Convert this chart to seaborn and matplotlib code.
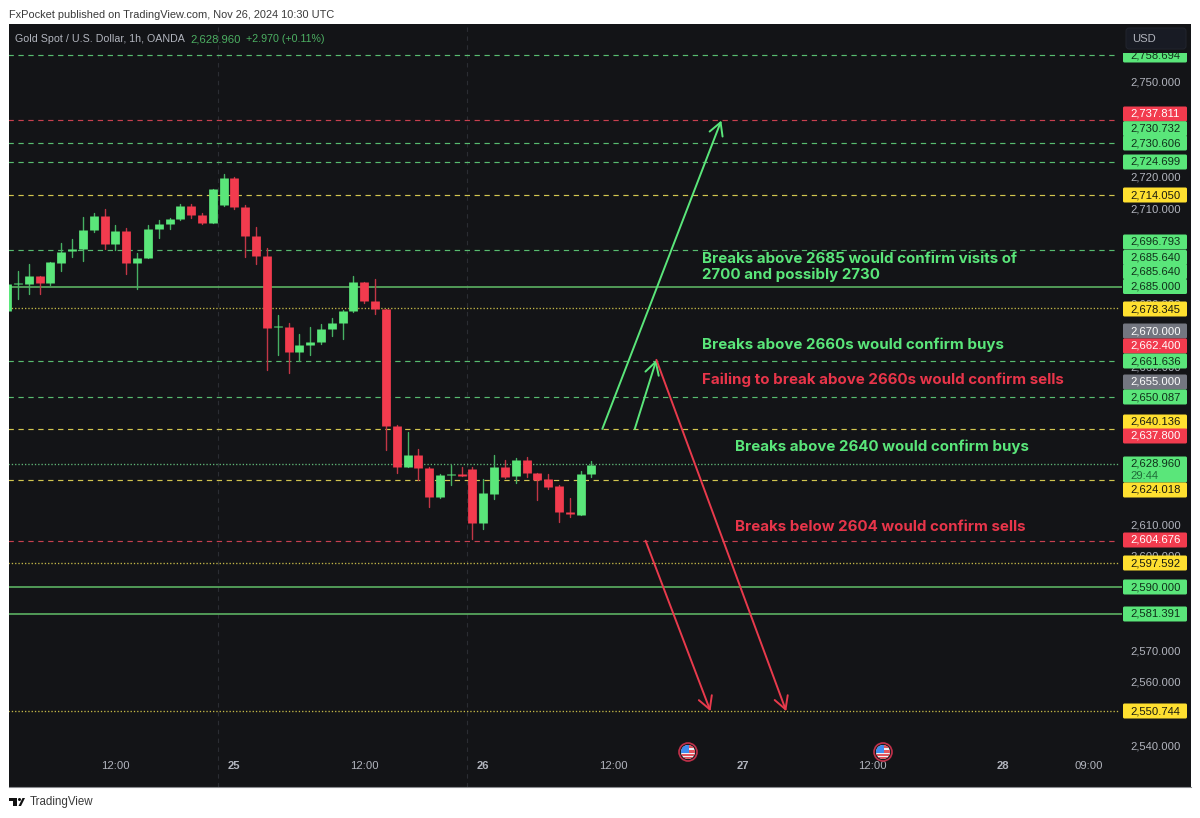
import matplotlib
matplotlib.use("Agg")
import matplotlib.pyplot as plt
from matplotlib.patches import Rectangle, FancyBboxPatch, Circle, Polygon
from matplotlib.transforms import Affine2D
import pandas as pd
import seaborn as sns

# ---------- data ----------
opens = [2677.5,2685.9,2686.0,2688.7,2686.3,2692.7,2696.4,2697.1,2703.0,2707.5,2698.6,2702.8,2692.8,2694.4,2703.5,2705.0,2706.5,2710.7,2707.9,2705.4,2710.9,2719.6,2710.5,2701.1,2695.0,2672.3,2672.3,2664.5,2666.7,2667.7,2671.8,2673.7,2677.5,2686.7,2680.6,2678.1,2641.0,2628.0,2631.7,2627.7,2618.4,2625.5,2625.8,2627.3,2610.3,2619.6,2628.0,2625.1,2630.3,2626.2,2624.1,2621.9,2613.9,2613.0,2625.7]
closes = [2685.9,2686.2,2688.4,2686.3,2692.9,2696.1,2697.1,2703.2,2707.5,2698.6,2702.9,2692.8,2694.4,2703.4,2704.9,2706.6,2710.7,2707.9,2705.4,2716.0,2719.6,2710.4,2701.1,2695.0,2672.1,2672.6,2664.5,2666.7,2667.7,2671.8,2673.7,2677.5,2686.5,2680.7,2678.1,2641.0,2628.1,2631.7,2627.6,2618.6,2625.6,2625.8,2625.2,2610.2,2619.7,2628.0,2625.0,2630.3,2626.1,2623.9,2621.8,2613.8,2613.3,2625.8,2628.7]
highs = [2685.9,2690.2,2692.2,2688.7,2692.9,2698.9,2700.3,2707.3,2708.4,2709.9,2704.8,2703.9,2695.9,2704.8,2706.3,2706.8,2711.2,2711.2,2708.6,2716.0,2721.0,2719.8,2710.9,2704.2,2697.3,2676.2,2673.8,2670.1,2672.3,2673.3,2675.1,2677.8,2688.7,2686.7,2687.7,2678.1,2641.3,2639.2,2633.9,2628.1,2625.8,2628.7,2628.1,2628.1,2624.2,2632.0,2630.3,2630.8,2631.3,2626.2,2625.8,2622.5,2618.1,2626.8,2630.0]
lows = [2677.5,2681.3,2682.7,2682.7,2685.7,2690.2,2694.6,2693.3,2702.6,2697.0,2696.9,2689.2,2684.4,2694.1,2700.7,2703.4,2706.3,2707.0,2704.9,2705.2,2710.7,2709.8,2694.6,2692.4,2658.7,2663.5,2657.9,2661.5,2663.5,2667.0,2669.7,2668.7,2677.3,2679.9,2676.4,2633.4,2626.2,2628.0,2623.9,2615.5,2618.1,2622.4,2625.2,2605.1,2608.4,2617.9,2624.7,2622.9,2624.8,2617.6,2621.1,2610.6,2612.3,2612.7,2625.0]

dashed_green = [2758.694,2730.606,2724.699,2696.793,2661.636,2650.087]
dashed_yellow = [2714.050,2640.136,2624.018]
dashed_red = [2737.811,2604.676]
dotted_yellow = [2678.345,2597.592,2550.744]
dotted_green = [2628.960]
solid_green = [2685.000,2590.000,2581.391]
day_breaks = [19.5,42.5]

price_ticks = [2750,2720,2710,2680,2660,2610,2600,2570,2560,2540]
time_ticks = [10,21,33,44,56,68,80,92,100]
time_labels = ["12:00","25","12:00","26","12:00","27","12:00","28","09:00"]

tag_values = [2758.694,2737.811,2730.732,2730.606,2724.699,2714.050,2696.793,2685.640,2685.640,2685.000,2678.345,2670.000,2662.400,2661.636,2655.000,2650.087,2640.136,2637.800,2628.960,2624.018,2604.676,2597.592,2590.000,2581.391,2550.744]
tag_kinds = ["g","r","g","g","g","y","g","g","g","g","y","n","r","g","n","g","y","r","g","y","r","y","g","g","y"]

arrow_from_x = [55,58,60,59]
arrow_from_y = [2640.1,2640.1,2662.0,2604.7]
arrow_to_x = [66,60,72,65]
arrow_to_y = [2737.8,2662.0,2550.7,2550.7]
arrow_kinds = ["g","g","r","r"]

notes = ["Breaks above 2685 would confirm visits of","2700 and possibly 2730","Breaks above 2660s would confirm buys",
         "Failing to break above 2660s would confirm sells","Breaks above 2640 would confirm buys","Breaks below 2604 would confirm sells"]
note_kinds = ["g","g","g","r","g","r"]

# ---------- layout / style ----------
W, H = 1200, 818
PANEL = "#131417"
GREEN, RED, YELLOW, GREY = "#5AE67A", "#F23B4E", "#FFE030", "#737680"
TXT = "#B2B5BE"
SMALL = "Liberation Sans"
FS = 8.1
tag_fill = {"g": GREEN, "r": RED, "y": YELLOW, "n": GREY}
tag_text = {"g": "#10301A", "r": "#FFFFFF", "y": "#1A1A10", "n": "#FFFFFF"}
tag_y_px = [55,114,128.7,143,162,195,242,257.5,271.6,286.5,309,331,346,361,382,397,422,436,464,490,540,563,587,614,711]
note_xy_px = [(702.5,259),(702.5,275),(702.5,345),(702.5,380),(735,447),(735,527)]

sns.set_theme(style="dark", rc={"axes.facecolor": PANEL, "figure.facecolor": "white", "axes.grid": False})
plt.rcParams["font.family"] = [SMALL, "DejaVu Sans"]

fig = plt.figure(figsize=(W/100, H/100), dpi=100)
ax = fig.add_axes([9/W, 1-787/H, (1191-9)/W, (787-24)/H])
px = Affine2D().scale(1, -1).translate(0, H)

idx = list(range(len(opens)))
df = pd.DataFrame({"i": idx, "o": opens, "c": closes, "h": highs, "l": lows})
df["dir"] = ["up" if c >= o else "down" for o, c in zip(df.o, df.c)]
wicks = df.melt(id_vars=["i", "dir"], value_vars=["h", "l"], value_name="price")
bodies = df.melt(id_vars=["i", "dir"], value_vars=["o", "c"], value_name="price")

for x in day_breaks:
    ax.axvline(x, color="#2B2D33", lw=0.8, ls=(0, (4, 4)), zorder=1)

def levels(vals, color, ls, lw=0.85, end=102.7):
    ax.hlines(vals, 0.1, end, colors=color, linestyles=ls, lw=lw, zorder=1.5)

DASH, DOT = (0, (4.5, 3.9)), (0, (1.0, 1.5))
levels(dashed_green, "#58BC70", DASH)
levels(dashed_yellow, "#D2C650", DASH)
levels(dashed_red, "#C8404F", DASH)
levels(dotted_yellow, "#C4B848", DOT, lw=0.95)
levels(dotted_green, "#5FB577", DOT, lw=0.95)
levels(solid_green, "#62BE68", "-", lw=1.1, end=103)

sns.lineplot(data=wicks, x="i", y="price", units="i", estimator=None, hue="dir", sort=False,
             palette={"up": "#46B063", "down": "#C23646"}, lw=1.0, legend=False, ax=ax, zorder=2)
sns.lineplot(data=bodies, x="i", y="price", units="i", estimator=None, hue="dir", sort=False,
             palette={"up": GREEN, "down": RED}, lw=6.3, legend=False, ax=ax, zorder=3,
             solid_capstyle="butt")

ax.set_xlim(0.166, 109.41)
ax.set_ylim(2526.7, 2768.37)
ax.set_xlabel(""); ax.set_ylabel("")
for s in ax.spines.values():
    s.set_visible(False)
ax.spines["bottom"].set_visible(True)
ax.spines["bottom"].set_color("#8A8C90")
ax.spines["bottom"].set_linewidth(0.8)

ax.set_xticks(time_ticks, time_labels)
ax.tick_params(axis="x", length=0, pad=-19, colors=TXT, labelsize=FS)
for lab, txt in zip(ax.get_xticklabels(), time_labels):
    if ":" not in txt:
        lab.set_fontweight("bold")
ax.yaxis.tick_right()
ax.set_yticks(price_ticks, [f"{v:,.3f}" for v in price_ticks])
ax.tick_params(axis="y", length=0, pad=-43.4, colors=TXT, labelsize=FS)

for x0, y0, x1, y1, k in zip(arrow_from_x, arrow_from_y, arrow_to_x, arrow_to_y, arrow_kinds):
    ax.annotate("", xy=(x1, y1), xytext=(x0, y0), zorder=4,
                arrowprops=dict(arrowstyle="->,head_length=0.9,head_width=0.5", mutation_scale=10,
                                color=GREEN if k == "g" else "#E83A4C", lw=1.4, shrinkA=0, shrinkB=0))

for t, k, (x, y) in zip(notes, note_kinds, note_xy_px):
    ax.text(x, y, t, transform=px, color=GREEN if k == "g" else "#E8354A", fontsize=10.85, fontweight="bold",
            family=["Inter", "DejaVu Sans"], va="center", ha="left", zorder=5)

# price tags
for v, k, y in zip(tag_values, tag_kinds, tag_y_px):
    h = 26 if v == 2628.960 else 15
    y0 = y - 7.5
    ax.add_patch(FancyBboxPatch((1124, y0+1), 62, h-2, boxstyle="round,pad=1,rounding_size=1.5", fc=tag_fill[k],
                                ec="none", transform=px, zorder=6, clip_on=False))
    ax.text(1130.5, y, f"{v:,.3f}", transform=px, color=tag_text[k], fontsize=FS, va="center", ha="left", zorder=7)
ax.text(1130.5, 476, "29:44", transform=px, color="#1F6B38", fontsize=FS, va="center", ha="left", zorder=7)

# USD button
ax.add_patch(Rectangle((1120, 24), 71, 29, fc=PANEL, ec="none", transform=px, zorder=8))
ax.add_patch(FancyBboxPatch((1127, 29), 58, 19, boxstyle="round,pad=1,rounding_size=3", fc="#181B24", ec="#22252E",
                            lw=0.7, transform=px, zorder=9))
ax.text(1144, 38.5, "USD", transform=px, color=TXT, fontsize=FS, va="center", ha="center", zorder=10)

# header inside the panel
ax.text(15, 39, "Gold Spot / U.S. Dollar, 1h, OANDA", transform=px, color=TXT, fontsize=7.65, va="center", zorder=10)
ax.text(190, 39, "2,628.960", transform=px, color="#4CAF62", fontsize=FS, va="center", zorder=10)
ax.text(246, 39, "+2.970 (+0.11%)", transform=px, color="#4CAF62", fontsize=7.7, va="center", zorder=10)

# event flags
for cx in (688, 883):
    cy = 752
    ax.add_patch(Circle((cx, cy), 9, fc="#1B1C20", ec="#C2304A", lw=1.2, transform=px, zorder=6))
    for y0, hh, c, x0, ww in [(cy-7, 14, "#EDEFF4", cx-7, 14), (cy-7, 2.5, "#E2555F", cx, 7), (cy-2, 2.5, "#E2555F", cx, 7),
                              (cy+2, 2, "#E2555F", cx-7, 14), (cy+5, 2, "#E2555F", cx-7, 14), (cy-7, 7.5, "#3F8CF0", cx-7, 7.5)]:
        r = Rectangle((x0, y0), ww, hh, fc=c, ec="none", transform=px, zorder=7)
        ax.add_patch(r)
        r.set_clip_path(Circle((cx, cy), 7, transform=px))

# outside the panel
fig.text(9, 15, "FxPocket published on TradingView.com, Nov 26, 2024 10:30 UTC", transform=px, color="#3A3A3A",
         fontsize=7.88, va="center", ha="left")
fig.text(29.5, 802, "TradingView", transform=px, color="#3A3A3A", fontsize=8.3, va="center", ha="left")
fig.add_artist(Polygon([(9, 798), (17, 798), (17, 806), (13, 806), (13, 801), (9, 801)], closed=True, fc="#111", ec="none", transform=px))
fig.add_artist(Polygon([(21, 806), (25, 798), (22.5, 798), (18.5, 806)], closed=True, fc="#111", ec="none", transform=px))
fig.add_artist(Circle((19.5, 799.5), 1.5, fc="#111", ec="none", transform=px))

fig.savefig("out.png", dpi=100, facecolor="white")
